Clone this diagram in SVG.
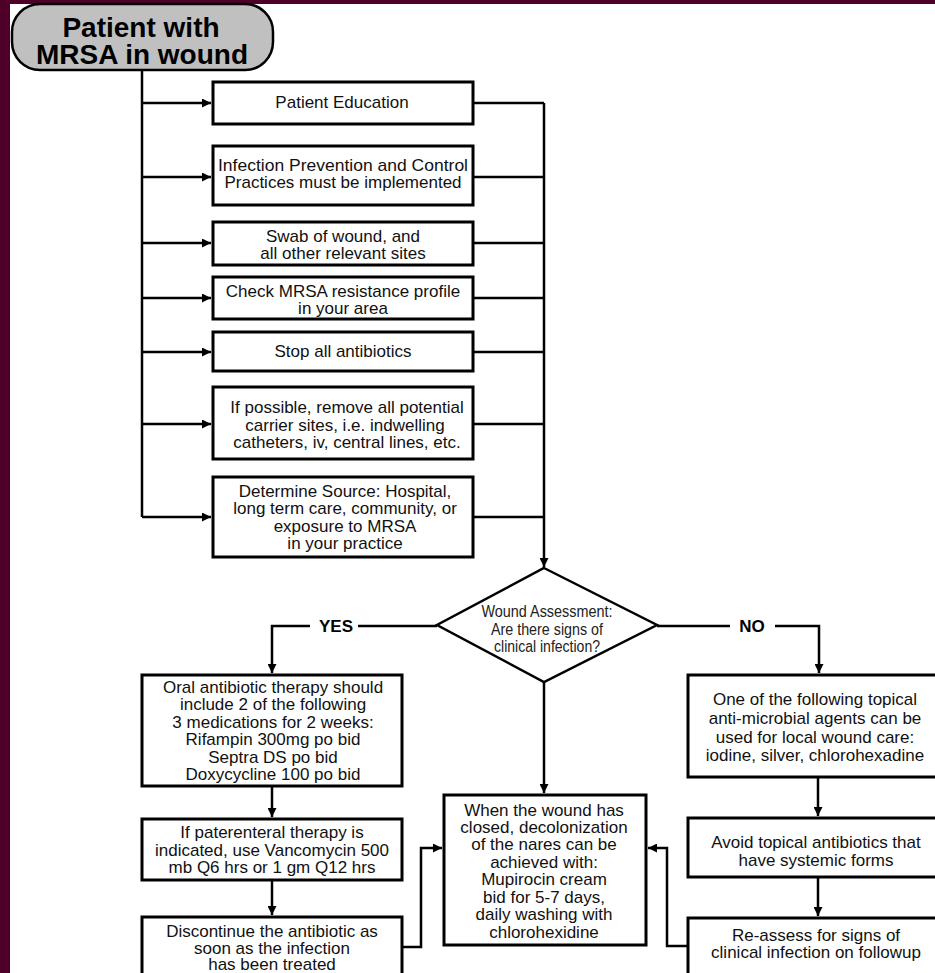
<svg xmlns="http://www.w3.org/2000/svg" width="935" height="973" viewBox="0 0 935 973">
<defs>
<marker id="ah" viewBox="0 0 10 10" refX="10" refY="5" markerWidth="9" markerHeight="9" markerUnits="userSpaceOnUse" orient="auto">
<path d="M0,0 L10,5 L0,10 z" fill="#000"/>
</marker>
<style>
.box{fill:#fff;stroke:#000;stroke-width:3}
.t{font-family:"Liberation Sans",Arial,sans-serif;font-size:17px;text-anchor:middle;fill:#111}
.d{font-family:"Liberation Sans",Arial,sans-serif;font-size:16px;text-anchor:middle;fill:#222}
.lbl{font-family:"Liberation Sans",Arial,sans-serif;font-size:17px;font-weight:bold;text-anchor:middle;fill:#000}
.c{fill:none;stroke:#000;stroke-width:2.5}
.a{fill:none;stroke:#000;stroke-width:2.5;marker-end:url(#ah)}
</style>
</defs>
<rect x="0" y="0" width="935" height="973" fill="#fff"/>
<rect x="0" y="0" width="10" height="973" fill="#4f0028"/>
<rect x="0" y="0" width="935" height="4" fill="#4f0028"/>

<g id="connectors">
<path class="c" d="M142,70 V517"/>
<path class="a" d="M142,103 H211"/>
<path class="a" d="M142,177 H211"/>
<path class="a" d="M142,243 H211"/>
<path class="a" d="M142,298 H211"/>
<path class="a" d="M142,352 H211"/>
<path class="a" d="M142,424 H211"/>
<path class="a" d="M142,517 H211"/>
<path class="c" d="M473,103 H544"/>
<path class="c" d="M473,177 H544"/>
<path class="c" d="M473,243 H544"/>
<path class="c" d="M473,298 H544"/>
<path class="c" d="M473,352 H544"/>
<path class="c" d="M473,424 H544"/>
<path class="c" d="M473,517 H544"/>
<path class="a" d="M544,103 V567"/>
<path class="c" d="M437,626 H358"/>
<path class="a" d="M310,626 H272 V673"/>
<path class="c" d="M657,626 H730"/>
<path class="a" d="M775,626 H819 V673"/>
<path class="a" d="M544,682 V793"/>
<path class="a" d="M272,786 V817"/>
<path class="a" d="M272,880 V915"/>
<path class="a" d="M402,947 H421 V848 H442"/>
<path class="a" d="M818,777 V816"/>
<path class="a" d="M818,877 V916"/>
<path class="a" d="M688,946 H667 V848 H648"/>
<text class="lbl" x="336" y="632">YES</text>
<text class="lbl" x="752" y="632">NO</text>
</g>

<g id="start">
<rect x="12" y="4" width="261" height="66" rx="28" ry="28" fill="#c0c0c0" stroke="#000" stroke-width="2.5"/>
<text x="141" y="37" style="font-family:'Liberation Sans',Arial,sans-serif;font-size:28px;font-weight:bold;text-anchor:middle">Patient with</text>
<text x="142" y="64" style="font-family:'Liberation Sans',Arial,sans-serif;font-size:28px;font-weight:bold;text-anchor:middle">MRSA in wound</text>
</g>

<g id="education">
<rect class="box" x="213" y="82" width="260" height="42"/>
<text class="t" x="342" y="108">Patient Education</text>
</g>
<g id="prevention">
<rect class="box" x="213" y="146" width="260" height="59"/>
<text class="t" x="343" y="171" textLength="250" lengthAdjust="spacingAndGlyphs">Infection Prevention and Control</text>
<text class="t" x="343" y="188">Practices must be implemented</text>
</g>
<g id="swab">
<rect class="box" x="213" y="222" width="260" height="43"/>
<text class="t" x="343" y="242">Swab of wound, and</text>
<text class="t" x="343" y="259">all other relevant sites</text>
</g>
<g id="resistance">
<rect class="box" x="213" y="277" width="260" height="42"/>
<text class="t" x="343" y="297">Check MRSA resistance profile</text>
<text class="t" x="343" y="314">in your area</text>
</g>
<g id="stop">
<rect class="box" x="213" y="332" width="260" height="39"/>
<text class="t" x="343" y="357">Stop all antibiotics</text>
</g>
<g id="carrier">
<rect class="box" x="213" y="387" width="260" height="72"/>
<text class="t" x="347" y="413">If possible, remove all potential</text>
<text class="t" x="345" y="431">carrier sites, i.e. indwelling</text>
<text class="t" x="347" y="448">catheters, iv, central lines, etc.</text>
</g>
<g id="source">
<rect class="box" x="213" y="477" width="260" height="80"/>
<text class="t" x="345" y="497">Determine Source: Hospital,</text>
<text class="t" x="345" y="514">long term care, community, or</text>
<text class="t" x="345" y="532">exposure to MRSA</text>
<text class="t" x="345" y="549">in your practice</text>
</g>

<g id="assessment">
<polygon points="544,568 657,625 544,682 437,625" fill="#fff" stroke="#000" stroke-width="2.5"/>
<text class="d" x="547" y="617" textLength="131" lengthAdjust="spacingAndGlyphs">Wound Assessment:</text>
<text class="d" x="547" y="635" textLength="112" lengthAdjust="spacingAndGlyphs">Are there signs of</text>
<text class="d" x="547" y="652" textLength="106" lengthAdjust="spacingAndGlyphs">clinical infection?</text>
</g>

<g id="oral">
<rect class="box" x="142" y="675" width="260" height="111"/>
<text class="t" x="273" y="693">Oral antibiotic therapy should</text>
<text class="t" x="273" y="710">include 2 of the following</text>
<text class="t" x="273" y="728">3 medications for 2 weeks:</text>
<text class="t" x="273" y="745">Rifampin 300mg po bid</text>
<text class="t" x="273" y="763">Septra DS po bid</text>
<text class="t" x="273" y="780">Doxycycline 100 po bid</text>
</g>
<g id="parenteral">
<rect class="box" x="142" y="819" width="260" height="61"/>
<text class="t" x="272" y="838">If paterenteral therapy is</text>
<text class="t" x="272" y="856">indicated, use Vancomycin 500</text>
<text class="t" x="272" y="873">mb Q6 hrs or 1 gm Q12 hrs</text>
</g>
<g id="discontinue">
<rect class="box" x="142" y="917" width="260" height="70"/>
<text class="t" x="272" y="937">Discontinue the antibiotic as</text>
<text class="t" x="272" y="954">soon as the infection</text>
<text class="t" x="272" y="970">has been treated</text>
</g>

<g id="decolonization">
<rect class="box" x="444" y="795" width="202" height="150"/>
<text class="t" x="544" y="816">When the wound has</text>
<text class="t" x="544" y="833">closed, decolonization</text>
<text class="t" x="544" y="850">of the nares can be</text>
<text class="t" x="544" y="868">achieved with:</text>
<text class="t" x="544" y="885">Mupirocin cream</text>
<text class="t" x="544" y="903">bid for 5-7 days,</text>
<text class="t" x="544" y="920">daily washing with</text>
<text class="t" x="544" y="938">chlorohexidine</text>
</g>

<g id="topical">
<rect class="box" x="688" y="675" width="262" height="102"/>
<text class="t" x="815" y="705">One of the following topical</text>
<text class="t" x="815" y="724">anti-microbial agents can be</text>
<text class="t" x="815" y="743">used for local wound care:</text>
<text class="t" x="815" y="761">iodine, silver, chlorohexadine</text>
</g>
<g id="avoid">
<rect class="box" x="688" y="818" width="262" height="59"/>
<text class="t" x="816" y="848">Avoid topical antibiotics that</text>
<text class="t" x="816" y="866">have systemic forms</text>
</g>
<g id="reassess">
<rect class="box" x="688" y="918" width="262" height="70"/>
<text class="t" x="816" y="941">Re-assess for signs of</text>
<text class="t" x="816" y="958">clinical infection on followup</text>
</g>
</svg>
